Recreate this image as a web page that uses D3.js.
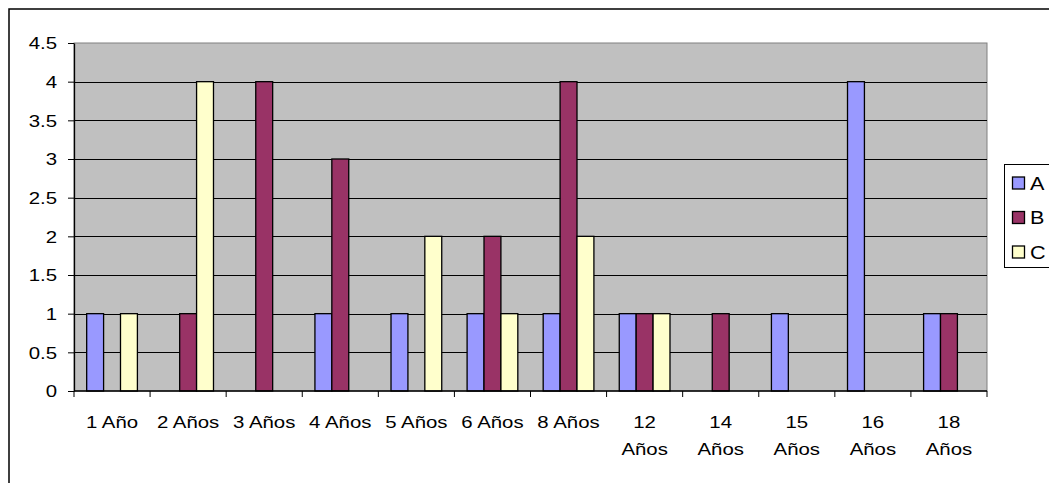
<!DOCTYPE html>
<html>
<head>
<meta charset="utf-8">
<script src="https://cdn.jsdelivr.net/npm/d3@7"></script>
<style>
  html, body { margin: 0; padding: 0; background: #fff; }
  svg text { font-family: "Liberation Sans", Arial, sans-serif; fill: #000; }
</style>
</head>
<body>
<svg id="chart" width="1049" height="483"></svg>
<script>
// Categories (ages) and counts per group
const categories = ["1 Año", "2 Años", "3 Años", "4 Años", "5 Años", "6 Años", "8 Años",
                    "12 Años", "14 Años", "15 Años", "16 Años", "18 Años"];
const seriesNames = ["A", "B", "C"];
const valuesA = [1, 0, 0, 1, 1, 1, 1, 1, 0, 1, 4, 1];
const valuesB = [0, 1, 4, 3, 0, 2, 4, 1, 1, 0, 0, 1];
const valuesC = [1, 4, 0, 0, 2, 1, 2, 1, 0, 0, 0, 0];
const yTicks = [0, 0.5, 1, 1.5, 2, 2.5, 3, 3.5, 4, 4.5];
const yTickLabels = ["0", "0.5", "1", "1.5", "2", "2.5", "3", "3.5", "4", "4.5"];

const colors = { A: "#9999FF", B: "#993366", C: "#FFFFCC" };
const seriesValues = { A: valuesA, B: valuesB, C: valuesC };

const svg = d3.select("#chart");
const W = 1049, H = 483;
const plot = { left: 74, right: 987, top: 43, bottom: 391 };
const textStretch = 1.2;   // labels are drawn slightly wide
const fontSize = 17;

svg.append("rect").attr("width", W).attr("height", H).attr("fill", "#fff");

// chart frame
svg.append("rect")
  .attr("x", 9).attr("y", 9).attr("width", W + 10).attr("height", H + 10)
  .attr("fill", "none").attr("stroke", "#000").attr("stroke-width", 1.5);

const x = d3.scaleBand().domain(categories).range([plot.left, plot.right]).padding(0);
const bw = x.bandwidth();
const groupPad = bw * 0.75 / 4.5;
const x1 = d3.scaleBand().domain(seriesNames).range([groupPad, bw - groupPad]).padding(0);
const y = d3.scaleLinear().domain([0, 4.5]).range([plot.bottom, plot.top]);

// plot area
svg.append("rect")
  .attr("x", plot.left).attr("y", plot.top)
  .attr("width", plot.right - plot.left).attr("height", plot.bottom - plot.top)
  .attr("fill", "#C0C0C0").attr("stroke", "#808080").attr("stroke-width", 1);

// horizontal gridlines
svg.append("g").selectAll("line")
  .data(yTicks.filter(t => t > 0 && t < 4.5))
  .join("line")
  .attr("x1", plot.left).attr("x2", plot.right)
  .attr("y1", d => Math.round(y(d)) + 0.5).attr("y2", d => Math.round(y(d)) + 0.5)
  .attr("stroke", "#000").attr("stroke-width", 1);

// bars
const rows = categories.map((c, i) => ({ cat: c, A: valuesA[i], B: valuesB[i], C: valuesC[i] }));
const groups = svg.append("g").selectAll("g")
  .data(rows).join("g")
  .attr("transform", d => `translate(${x(d.cat)},0)`);
groups.selectAll("rect")
  .data(d => seriesNames.map(s => ({ s, v: d[s] })).filter(e => e.v > 0))
  .join("rect")
  .attr("x", d => x1(d.s))
  .attr("y", d => y(d.v))
  .attr("width", x1.bandwidth())
  .attr("height", d => y(0) - y(d.v))
  .attr("fill", d => colors[d.s])
  .attr("stroke", "#000").attr("stroke-width", 1.3);

// y axis
const yAxis = d3.axisLeft(y).tickValues(yTicks).tickSize(6).tickSizeOuter(0)
  .tickFormat((d, i) => yTickLabels[i]);
const yg = svg.append("g").attr("transform", `translate(${plot.left},0)`).call(yAxis);
yg.select(".domain").attr("stroke", "#000").attr("stroke-width", 1.3);
yg.selectAll(".tick line").attr("stroke", "#000");
yg.selectAll(".tick text")
  .attr("x", 0).attr("dy", "0.35em")
  .attr("transform", `translate(-17,0) scale(${textStretch},1)`)
  .attr("font-size", fontSize).attr("font-family", null)
  .attr("text-anchor", "end");

// x axis line and category boundary ticks
svg.append("line")
  .attr("x1", plot.left).attr("x2", plot.right)
  .attr("y1", y(0)).attr("y2", y(0))
  .attr("stroke", "#000").attr("stroke-width", 1.3);
const boundaries = categories.map(c => x(c)).concat([x(categories[categories.length - 1]) + bw]);
svg.append("g").selectAll("line")
  .data(boundaries).join("line")
  .attr("x1", d => d).attr("x2", d => d)
  .attr("y1", y(0)).attr("y2", y(0) + 6)
  .attr("stroke", "#000").attr("stroke-width", 1);

// x category labels, wrapped onto two lines when too wide for the band
const xl = svg.append("g");
categories.forEach(c => {
  const g = xl.append("g")
    .attr("transform", `translate(${x(c) + bw / 2},${plot.bottom + 37}) scale(${textStretch},1)`);
  const t = g.append("text").attr("text-anchor", "middle").attr("font-size", fontSize).text(c);
  if (t.node().getComputedTextLength() * textStretch > bw - 6) {
    const parts = c.split(" ");
    t.text(null);
    parts.forEach((p, k) => {
      t.append("tspan").attr("x", 0).attr("y", k * 27).text(p);
    });
  }
});

// legend
const legend = svg.append("g");
legend.append("rect")
  .attr("x", 1004.5).attr("y", 164.5).attr("width", 60).attr("height", 103)
  .attr("fill", "#fff").attr("stroke", "#000").attr("stroke-width", 1);
seriesNames.forEach((s, i) => {
  const cy = 183 + i * 34.5;
  legend.append("rect")
    .attr("x", 1012.5).attr("y", cy - 6).attr("width", 12).attr("height", 12)
    .attr("fill", colors[s]).attr("stroke", "#000").attr("stroke-width", 1.3);
  legend.append("text")
    .attr("transform", `translate(1030,${cy + 6.5}) scale(${textStretch},1)`)
    .attr("font-size", 18).text(s);
});
</script>
</body>
</html>
